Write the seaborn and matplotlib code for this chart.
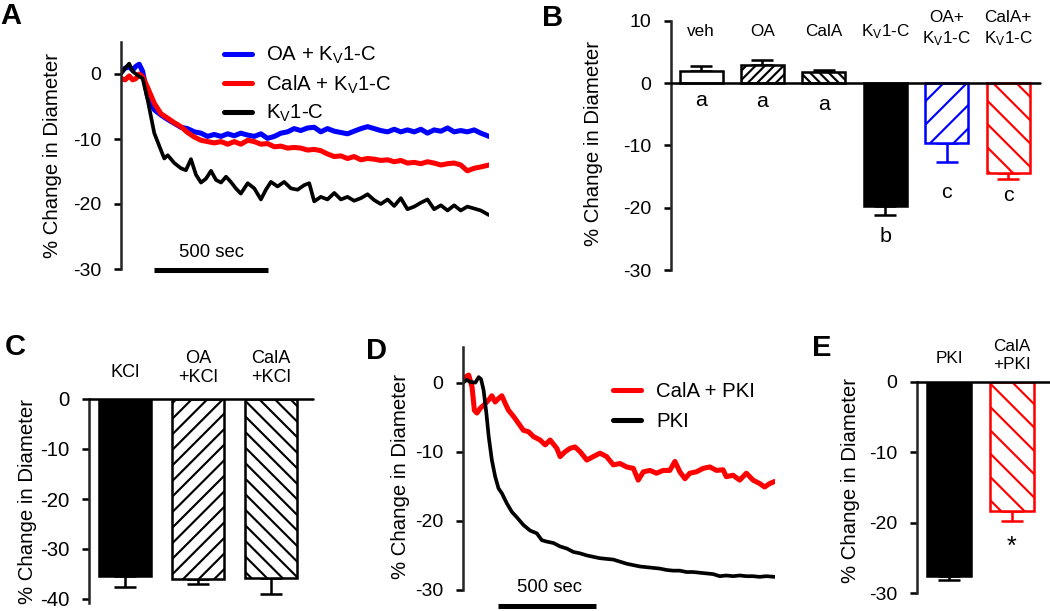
import matplotlib
matplotlib.use("Agg")
import matplotlib.pyplot as plt
import seaborn as sns

# -----------------------------
# Data
# -----------------------------
KV = r"K$_\mathregular{V}$1-C"

# Panel A: diameter traces (time in s, % change)
t_a = [0, 18, 36, 51, 66, 80, 95, 117, 146, 175, 205, 234, 263, 292, 322, 351, 380, 409,
       439, 468, 497, 526, 556, 585, 614, 643, 673, 702, 731, 760, 789, 819, 848, 877,
       906, 936, 965, 994, 1023, 1053, 1082, 1111, 1140, 1170, 1199, 1228, 1257, 1287,
       1316, 1345, 1374, 1404, 1433, 1462, 1491, 1520, 1550, 1579, 1615]
oa_kv = [0.3, 0.9, 1.1, 0.6, 1.2, 1.5, 0.4,
         -3.5, -5.5, -6.3, -7.0, -7.6, -8.2, -8.4, -8.9, -9.1, -9.6,
         -9.3, -9.6, -9.2, -9.5, -9.1, -9.4, -9.6, -9.2, -9.9, -9.6,
         -9.1, -8.9, -8.4, -8.7, -8.3, -8.2, -8.9, -8.4, -8.8, -9.0,
         -9.2, -8.8, -8.4, -8.1, -8.4, -8.7, -8.9, -8.5, -8.9, -8.6,
         -8.9, -8.5, -9.1, -8.6, -8.8, -8.3, -8.9, -8.7, -8.9, -8.6,
         -9.1, -9.6]
cala_kv = [-0.7, -0.9, -0.3, -0.9, -0.7, 0.0, -0.4,
           -2.1, -4.5, -6.1, -6.8, -7.5, -8.1, -9.0, -9.7, -10.2, -10.4,
           -10.6, -10.4, -10.8, -10.4, -10.8, -10.2, -10.4, -10.8, -10.7, -11.2,
           -11.1, -11.4, -11.3, -11.4, -11.7, -11.6, -11.8, -12.3, -12.7, -12.6,
           -13.0, -12.7, -13.2, -13.0, -13.1, -13.3, -13.2, -13.5, -13.3, -13.7,
           -13.6, -13.8, -13.5, -13.7, -14.0, -13.8, -13.7, -14.0, -14.9, -14.5,
           -14.3, -14.0]
t_a_kv = [0, 18, 36, 51, 73, 95, 117, 146, 175, 190, 205, 234, 263, 285, 307, 329, 351,
          373, 395, 417, 439, 461, 482, 504, 526, 556, 585, 614, 636, 658, 687, 716, 746,
          775, 804, 826, 848, 877, 906, 936, 965, 994, 1023, 1053, 1082, 1111, 1140, 1170,
          1199, 1228, 1257, 1287, 1316, 1345, 1374, 1404, 1433, 1462, 1491, 1520, 1550,
          1579, 1615]
kv_only = [0.0, 0.9, 1.6, 0.4, -0.2, -0.7,
           -4.0, -9.1, -11.7, -13.0, -12.5, -13.7, -14.5, -14.8, -13.1, -15.5,
           -16.7, -16.1, -14.9, -16.3, -16.7, -15.8, -16.6, -17.6, -18.4, -16.8,
           -17.6, -19.3, -17.8, -16.6, -17.3, -16.6, -17.6, -17.8, -17.1, -16.8,
           -19.6, -18.9, -19.3, -18.3, -19.3, -18.9, -19.5, -19.1, -18.5, -19.4,
           -20.0, -19.3, -20.3, -19.1, -20.8, -20.4, -19.8, -19.3, -20.8, -20.2,
           -21.0, -20.2, -21.0, -20.4, -20.7, -21.0, -21.7]

# Panel B: mean and SEM
b_keys = ["veh", "OA", "CalA", "Kv", "OA+Kv", "CalA+Kv"]
b_labels = ["veh", "OA", "CalA", KV, "OA+\n" + KV, "CalA+\n" + KV]
b_vals = [1.9, 2.9, 1.7, -19.8, -9.6, -14.4]
b_sem = [0.9, 0.75, 0.35, 1.4, 3.1, 1.0]
b_letters = ["a", "a", "a", "b", "c", "c"]

# Panel C
c_keys = ["KCl", "OA+KCl", "CalA+KCl"]
c_labels = ["KCl", "OA\n+KCl", "CalA\n+KCl"]
c_vals = [-35.3, -35.9, -35.7]
c_sem = [2.3, 1.1, 3.3]

# Panel D: traces
t_d_pki = [0, 20, 37, 63, 80, 92, 105, 119, 131, 147, 164, 181, 198, 224, 249, 275, 308,
           342, 376, 402, 427, 461, 495, 529, 563, 597, 631, 664, 698, 732, 766, 800, 834,
           868, 902, 936, 969, 1003, 1037, 1071, 1105, 1139, 1173, 1207, 1241, 1275, 1308,
           1342, 1376, 1410, 1444, 1478, 1512, 1546, 1588]
pki = [0.0, 0.4, 0.1, 0.0, 0.8, 0.5, -1.1, -4.4, -7.8, -11.2,
       -13.6, -15.3, -16.0, -17.5, -18.7, -19.5, -20.6, -21.4, -21.8, -22.8,
       -23.0, -23.2, -23.7, -24.0, -24.5, -24.7, -25.0, -25.2, -25.4, -25.5,
       -25.6, -25.9, -26.2, -26.4, -26.6, -26.7, -26.8, -26.9, -27.1, -27.2,
       -27.2, -27.4, -27.4, -27.5, -27.6, -27.7, -28.0, -27.9, -28.0, -27.9,
       -28.0, -28.0, -28.1, -28.0, -28.1]
t_d_cala = [0, 17, 29, 46, 58, 71, 88, 108, 131, 147, 164, 181, 198, 215, 232, 258, 283,
            308, 334, 359, 393, 419, 444, 478, 495, 520, 546, 571, 597, 631, 664, 698,
            732, 766, 800, 834, 868, 893, 919, 953, 986, 1020, 1054, 1080, 1105, 1131,
            1156, 1190, 1224, 1258, 1292, 1325, 1342, 1376, 1410, 1444, 1478, 1512, 1537,
            1563, 1588]
cala_pki = [0.1, 0.9, 1.1, -0.6, -4.0, -4.4, -3.7, -3.2, -2.5, -1.9,
            -2.8, -2.3, -1.9, -3.0, -4.0, -4.9, -5.9, -6.9, -7.1, -7.8,
            -8.3, -9.0, -8.3, -9.5, -10.7, -10.0, -9.5, -9.3, -10.0, -11.2,
            -10.7, -10.2, -10.7, -11.9, -11.7, -12.2, -12.4, -14.1, -12.9, -12.7,
            -13.1, -12.7, -12.7, -11.4, -12.9, -13.9, -13.1, -12.9, -12.4, -12.2,
            -12.7, -12.6, -13.6, -13.4, -14.1, -13.1, -14.1, -14.6, -15.1, -14.6,
            -14.3]

# Panel E
e_keys = ["PKI", "CalA+PKI"]
e_labels = ["PKI", "CalA\n+PKI"]
e_vals = [-27.6, -18.3]
e_sem = [0.5, 1.4]

BLUE = "#0000ff"
RED = "#ff0000"

# -----------------------------
# Style
# -----------------------------
sns.set_theme(style="ticks")
plt.rcParams["font.family"] = ["Liberation Sans", "DejaVu Sans"]
plt.rcParams["mathtext.fontset"] = "custom"
plt.rcParams["mathtext.rm"] = "Liberation Sans"
plt.rcParams["mathtext.it"] = "Liberation Sans:italic"
plt.rcParams["hatch.linewidth"] = 1.1
plt.rcParams["axes.linewidth"] = 1.3
plt.rcParams["text.color"] = "black"
plt.rcParams["axes.labelcolor"] = "black"
plt.rcParams["xtick.color"] = "black"
plt.rcParams["ytick.color"] = "black"

W, H = 1050, 611
fig = plt.figure(figsize=(W / 140, H / 140), dpi=140)


def box(left, top, right, bottom):
    return [left / W, 1 - bottom / H, (right - left) / W, (bottom - top) / H]


def style(ax, ticks, tsize=10, ylab_x=-0.17, ylab_y=0.5):
    for s in ["top", "right", "bottom"]:
        ax.spines[s].set_visible(False)
    ax.set_xticks([])
    ax.set_xlabel("")
    ax.set_yticks(ticks)
    ax.set_yticklabels([str(t) for t in ticks])
    ax.tick_params(axis="y", direction="out", length=3.5, width=1.3, pad=6.5,
                   labelsize=tsize)
    ax.set_ylabel("% Change in Diameter", fontsize=10.5)
    ax.yaxis.set_label_coords(ylab_x, ylab_y)


def bars(ax, keys, vals, sem, faces, edges, hatches):
    sns.barplot(x=keys, y=vals, order=keys, color="white", width=0.7,
                errorbar=None, ax=ax, zorder=2)
    for i, p in enumerate(ax.patches):
        p.set_facecolor(faces[i])
        p.set_edgecolor(edges[i])
        p.set_hatch(hatches[i])
        p.set_linewidth(1.3)
        lo = sem[i] if vals[i] < 0 else 0
        hi = sem[i] if vals[i] > 0 else 0
        ax.errorbar(i, vals[i], yerr=[[lo], [hi]], fmt="none", ecolor=edges[i],
                    elinewidth=1.3, capsize=5.5, capthick=1.3, zorder=1)
    ax.axhline(0, color="black", lw=1.3, zorder=3, clip_on=False)


# -----------------------------
# Panel A
# -----------------------------
axA = fig.add_axes(box(121, 41.5, 489, 269))
sns.lineplot(x=t_a, y=oa_kv, color=BLUE, lw=2.6, ax=axA, label="OA + " + KV)
sns.lineplot(x=t_a, y=cala_kv, color=RED, lw=2.6, ax=axA, label="CalA + " + KV)
sns.lineplot(x=t_a_kv, y=kv_only, color="black", lw=1.9, ax=axA, label=KV)
axA.set_xlim(0, 1615)
axA.set_ylim(-30, 5)
style(axA, [-30, -20, -10, 0], ylab_x=-0.160)
leg = axA.legend(loc="upper left", bbox_to_anchor=(0.28, 0.985), frameon=False,
                 fontsize=10.5, handlelength=1.35, handletextpad=0.7,
                 labelspacing=0.35, borderpad=0, borderaxespad=0)
for h in leg.get_lines():
    h.set_linewidth(2.6)
axA.plot([146, 646], [-30.2, -30.2], color="black", lw=2.6, clip_on=False,
         solid_capstyle="butt")
axA.text(396, -27.4, "500 sec", ha="center", va="center", fontsize=9.5)

# -----------------------------
# Panel B
# -----------------------------
axB = fig.add_axes(box(671, 20.7, 1040, 270))
bars(axB, b_keys, b_vals, b_sem,
     ["white", "white", "white", "black", "white", "white"],
     ["black", "black", "black", "black", BLUE, RED],
     ["", "/////", "\\\\\\\\\\", "", "//", "\\\\"])
axB.set_xlim(-0.49, 5.52)
axB.set_ylim(-30, 10)
style(axB, [-30, -20, -10, 0, 10], ylab_x=-0.184, ylab_y=0.506)
b_label_y = [8.2, 8.2, 8.2, 8.2, 8.7, 8.7]
b_letter_y = [-2.8, -3.0, -3.4, -24.6, -17.6, -18.0]
for i, lab in enumerate(b_labels):
    axB.text(i, b_label_y[i], lab, ha="center", va="center", fontsize=8.8,
             linespacing=1.3)
    axB.text(i, b_letter_y[i], b_letters[i], ha="center", va="center", fontsize=11)

# -----------------------------
# Panel C
# -----------------------------
axC = fig.add_axes(box(89, 399, 313, 603))
bars(axC, c_keys, c_vals, c_sem,
     ["black", "white", "white"], ["black", "black", "black"],
     ["", "///", "\\\\\\"])
axC.set_xlim(-0.493, 2.575)
axC.set_ylim(-40.8, 0)
style(axC, [-40, -30, -20, -10, 0], tsize=10.5, ylab_x=-0.232)
c_label_y = [5.3, 6.2, 6.2]
for i, lab in enumerate(c_labels):
    axC.text(i, c_label_y[i], lab, ha="center", va="center", fontsize=9.3,
             linespacing=1.2, clip_on=False)

# -----------------------------
# Panel D
# -----------------------------
axD = fig.add_axes(box(463, 346.7, 775, 590))
sns.lineplot(x=t_d_cala, y=cala_pki, color=RED, lw=2.6, ax=axD, label="CalA + PKI")
sns.lineplot(x=t_d_pki, y=pki, color="black", lw=1.9, ax=axD, label="PKI")
axD.set_xlim(0, 1590)
axD.set_ylim(-30, 5.2)
style(axD, [-30, -20, -10, 0], ylab_x=-0.170, ylab_y=0.467)
leg = axD.legend(loc="upper left", bbox_to_anchor=(0.481, 0.855), frameon=False,
                 fontsize=10.5, handlelength=1.35, handletextpad=0.75,
                 labelspacing=0.55, borderpad=0, borderaxespad=0)
for h in leg.get_lines():
    h.set_linewidth(2.6)
axD.plot([177, 677], [-32.3, -32.3], color="black", lw=2.6, clip_on=False,
         solid_capstyle="butt")
axD.text(439, -29.6, "500 sec", ha="center", va="center", fontsize=9.5)

# -----------------------------
# Panel E
# -----------------------------
axE = fig.add_axes(box(917, 382, 1050, 593))
bars(axE, e_keys, e_vals, e_sem, ["black", "white"], ["black", RED], ["", "\\\\"])
axE.set_xlim(-0.508, 1.603)
axE.set_ylim(-30, 0)
style(axE, [-30, -20, -10, 0], ylab_x=-0.429, ylab_y=0.535)
e_label_y = [3.3, 3.7]
for i, lab in enumerate(e_labels):
    axE.text(i, e_label_y[i], lab, ha="center", va="center", fontsize=8.8,
             linespacing=1.25, clip_on=False)
axE.text(1, -23.4, "*", ha="center", va="center", fontsize=13)

# panel letters
for letter, x, y in [("A", 0, 2), ("B", 542, 4), ("C", 5, 333), ("D", 366, 337),
                     ("E", 812, 334)]:
    fig.text(x / W, 1 - y / H, letter, ha="left", va="top", fontsize=15,
             fontweight="bold")

fig.savefig("out.png", dpi=140)
